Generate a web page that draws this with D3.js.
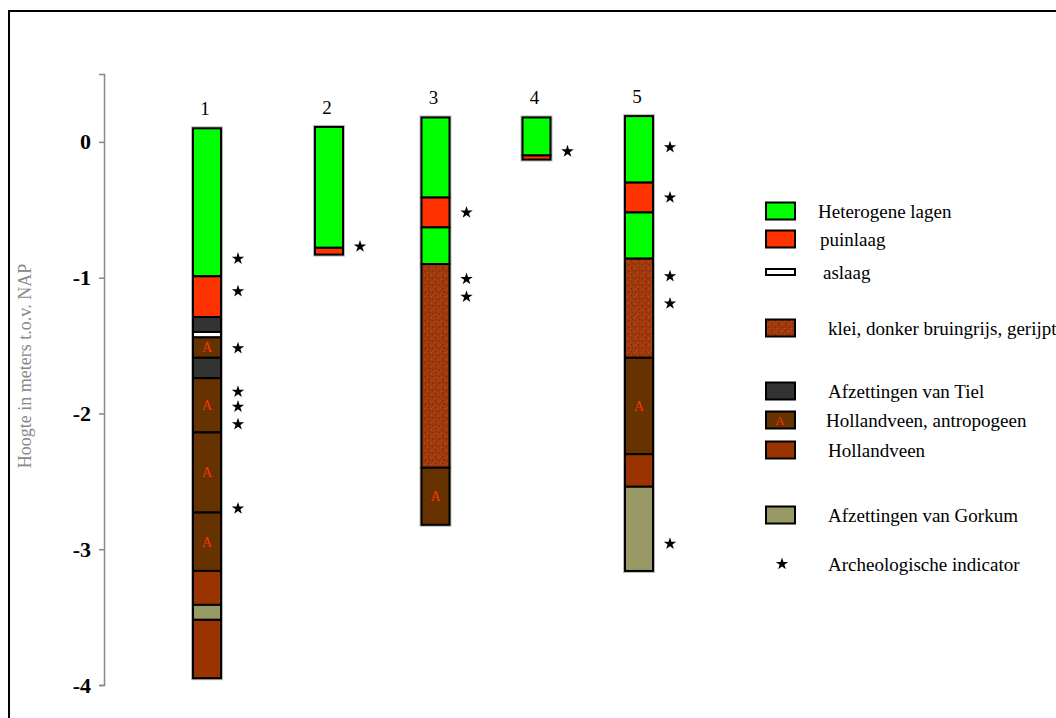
<!DOCTYPE html>
<html>
<head>
<meta charset="utf-8">
<script src="https://cdn.jsdelivr.net/npm/d3@7"></script>
<style>
  html, body { margin: 0; padding: 0; background: #fff; }
  svg { display: block; }
</style>
</head>
<body>
<script>
// Borehole ids
const boreholes = ["1", "2", "3", "4", "5"];

// Layer boundaries (m t.o.v. NAP), top to bottom, and layer types per borehole
const bounds1 = [0.10, -0.99, -1.29, -1.40, -1.44, -1.59, -1.74, -2.14, -2.73, -3.16, -3.41, -3.52, -3.95];
const types1  = ["het", "puin", "tiel", "as", "antro", "tiel", "antro", "antro", "antro", "hv", "gork", "hv"];
const bounds2 = [0.11, -0.78, -0.83];
const types2  = ["het", "puin"];
const bounds3 = [0.18, -0.41, -0.63, -0.90, -2.40, -2.82];
const types3  = ["het", "puin", "het", "klei", "antro"];
const bounds4 = [0.18, -0.10, -0.13];
const types4  = ["het", "puin"];
const bounds5 = [0.19, -0.30, -0.52, -0.86, -1.59, -2.30, -2.54, -3.16];
const types5  = ["het", "puin", "het", "klei", "antro", "hv", "gork"];

// Archeologische indicatoren (depths) per borehole
const stars1 = [-0.86, -1.10, -1.52, -1.84, -1.95, -2.08, -2.70];
const stars2 = [-0.77];
const stars3 = [-0.52, -1.01, -1.14];
const stars4 = [-0.07];
const stars5 = [-0.04, -0.41, -0.99, -1.19, -2.96];

// Axis ticks
const yTicks = [0, -1, -2, -3, -4];

// Legend entries
const legendKeys   = ["het", "puin", "as", "klei", "tiel", "antro", "hv", "gork", "star"];
const legendLabels = ["Heterogene lagen", "puinlaag", "aslaag", "klei, donker bruingrijs, gerijpt",
                      "Afzettingen van Tiel", "Hollandveen, antropogeen", "Hollandveen",
                      "Afzettingen van Gorkum", "Archeologische indicator"];

const allBounds = [bounds1, bounds2, bounds3, bounds4, bounds5];
const allTypes  = [types1, types2, types3, types4, types5];
const allStars  = [stars1, stars2, stars3, stars4, stars5];

// ---- Layout ----
const W = 1056, H = 718;
const serif = "'Liberation Serif', 'Times New Roman', serif";
const fills = {
  het: "#00ff00", puin: "#ff3300", as: "#ffffff", klei: "url(#kleiPattern)",
  tiel: "#333333", antro: "#663300", hv: "#993300", gork: "#999966"
};

const svg = d3.select("body").append("svg").attr("width", W).attr("height", H);

// Speckled clay texture
const defs = svg.append("defs");
const pat = defs.append("pattern").attr("id", "kleiPattern")
  .attr("patternUnits", "userSpaceOnUse").attr("width", 7).attr("height", 7);
pat.append("rect").attr("width", 7).attr("height", 7).attr("fill", "#a03a0c");
[[1, 1, "#6e2606"], [4, 2, "#c05420"], [2, 4, "#7a2c08"], [5, 5, "#6e2606"], [6, 1, "#b84a18"], [0, 6, "#c05420"]]
  .forEach(([cx, cy, c]) => pat.append("rect").attr("x", cx).attr("y", cy).attr("width", 1).attr("height", 1).attr("fill", c));

// Outer frame (left and top edges)
svg.append("path").attr("d", `M9,${H} V11 H${W}`)
  .attr("fill", "none").attr("stroke", "#000").attr("stroke-width", 2);

const y = d3.scaleLinear().domain([0.5, -4]).range([74, 685]);
const x = d3.scaleOrdinal().domain(boreholes).range([207, 329, 435.5, 536.5, 639]);
const colW = 28;

// Y axis
const axisG = svg.append("g").attr("transform", "translate(104,0)")
  .call(d3.axisLeft(y).tickValues(yTicks).tickSize(5).tickPadding(8).tickFormat(d => String(d)));
axisG.selectAll("path, line").attr("stroke", "#888").attr("stroke-width", 1.5);
axisG.selectAll("text").attr("font-family", serif).attr("font-size", 22)
  .attr("font-weight", "bold").attr("fill", "#000");

svg.append("text")
  .attr("transform", `translate(31,366) rotate(-90)`)
  .attr("text-anchor", "middle")
  .attr("font-family", serif).attr("font-size", 18).attr("fill", "#888")
  .text("Hoogte in meters t.o.v. NAP");

const star = d3.symbol().type(d3.symbolStar).size(48);

// Boreholes
boreholes.forEach((id, i) => {
  const b = allBounds[i], t = allTypes[i];
  const cx = x(id);
  const g = svg.append("g");
  const layers = t.map((type, k) => ({ type, top: b[k], bot: b[k + 1] }));

  // soft halo around the column
  g.append("rect")
    .attr("x", cx - colW / 2).attr("y", y(b[0]))
    .attr("width", colW).attr("height", y(b[b.length - 1]) - y(b[0]))
    .attr("fill", "none").attr("stroke", "#bbb").attr("stroke-width", 4);

  g.selectAll("rect.layer").data(layers).join("rect").attr("class", "layer")
    .attr("x", cx - colW / 2).attr("y", d => y(d.top))
    .attr("width", colW).attr("height", d => y(d.bot) - y(d.top))
    .attr("fill", d => fills[d.type]).attr("stroke", "#000").attr("stroke-width", 2);

  g.selectAll("text.a").data(layers.filter(d => d.type === "antro")).join("text").attr("class", "a")
    .attr("x", cx).attr("y", d => (y(d.top) + y(d.bot)) / 2)
    .attr("dy", "0.35em").attr("text-anchor", "middle")
    .attr("font-family", serif).attr("font-size", 14).attr("fill", "#ff3300")
    .text("A");

  g.append("text").attr("x", cx - 2).attr("y", y(b[0]) - 13)
    .attr("text-anchor", "middle").attr("font-family", serif).attr("font-size", 19)
    .attr("fill", "#000").text(id);

  g.selectAll("path.star").data(allStars[i]).join("path").attr("class", "star")
    .attr("transform", d => `translate(${cx + 31},${y(d)})`)
    .attr("d", star).attr("fill", "#000");
});

// Legend
const legendRowY = [211, 239, 272, 328, 391, 420, 450, 515, 564];
const legendTextX = [818, 820, 823, 828, 828, 826, 828, 828, 828];
const lg = svg.append("g");
legendKeys.forEach((key, i) => {
  const cy = legendRowY[i];
  if (key === "star") {
    lg.append("path").attr("transform", `translate(782,${cy})`).attr("d", star).attr("fill", "#000");
  } else {
    const h = key === "as" ? 6 : 17;
    lg.append("rect").attr("x", 766).attr("y", cy - h / 2)
      .attr("width", 29).attr("height", h)
      .attr("fill", fills[key]).attr("stroke", "#000").attr("stroke-width", 2);
    if (key === "antro") {
      lg.append("text").attr("x", 780).attr("y", cy).attr("dy", "0.35em")
        .attr("text-anchor", "middle").attr("font-family", serif).attr("font-size", 13)
        .attr("fill", "#ff3300").text("A");
    }
  }
  lg.append("text").attr("x", legendTextX[i]).attr("y", cy).attr("dy", "0.35em")
    .attr("font-family", serif).attr("font-size", 19).attr("fill", "#000")
    .text(legendLabels[i]);
});
</script>
</body>
</html>
